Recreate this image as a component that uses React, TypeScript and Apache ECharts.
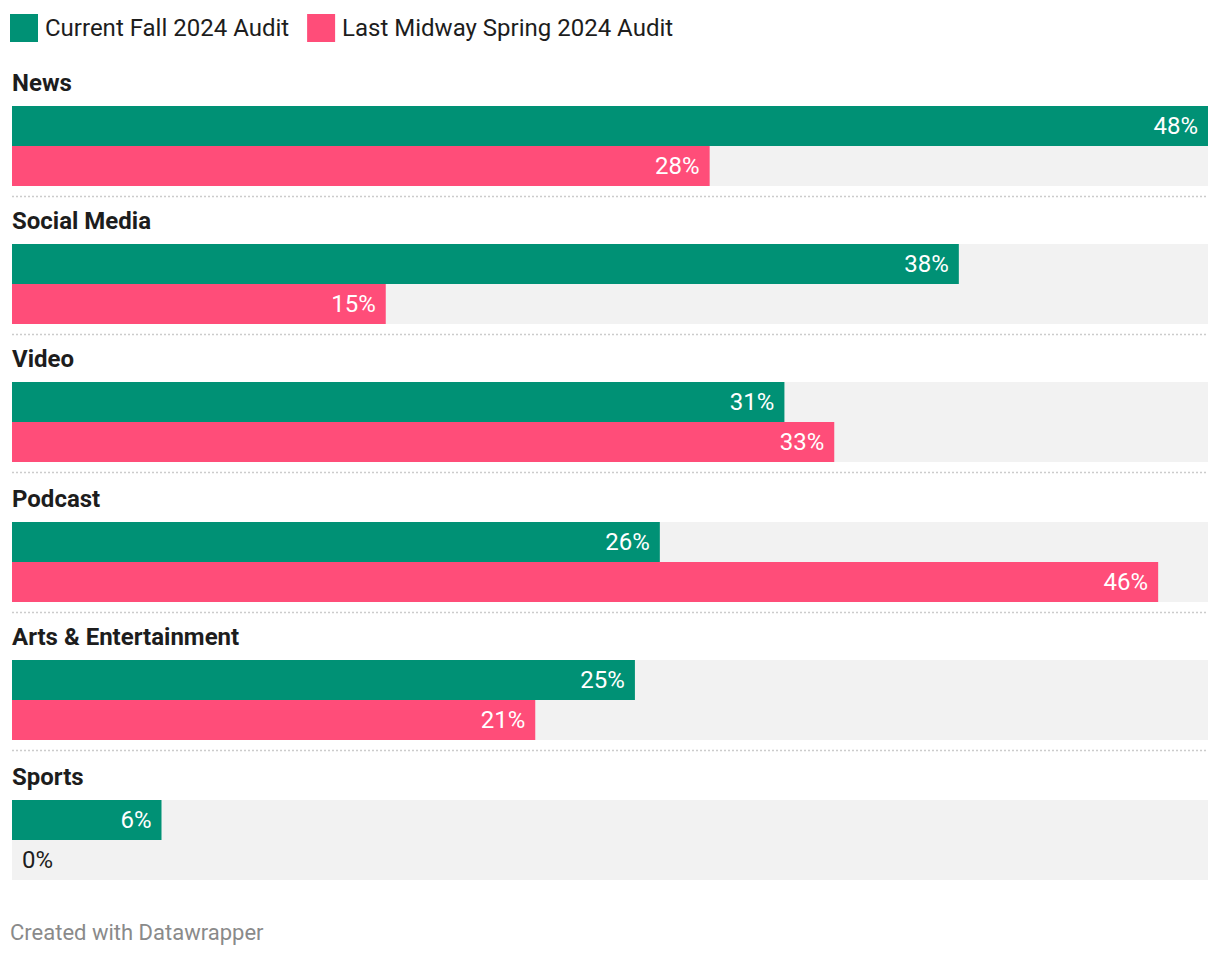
import React, { useEffect, useRef } from "react";
import * as echarts from "echarts";

const categories = ["News", "Social Media", "Video", "Podcast", "Arts & Entertainment", "Sports"];
const seriesNames = ["Current Fall 2024 Audit", "Last Midway Spring 2024 Audit"];
const currentValues = [48, 38, 31, 26, 25, 6];
const lastValues = [28, 15, 33, 46, 21, 0];
const colors = ["#009175", "#ff4d79"];

const FONT = "Roboto, 'Noto Sans', sans-serif";

export default function App() {
  const ref = useRef<HTMLDivElement>(null);
  useEffect(() => {
    if (!ref.current) return;
    const chart = echarts.init(ref.current, undefined, { renderer: "svg" });
    const rowTops = [106, 244, 382, 522, 660, 800];
    const grids: any[] = [];
    const xAxes: any[] = [];
    const yAxes: any[] = [];
    const series: any[] = [];
    const graphics: any[] = [];
    const valueSets = [currentValues, lastValues];
    categories.forEach((cat, i) => {
      const top = rowTops[i];
      grids.push({ left: 12, right: 12, top, height: 80 });
      xAxes.push({ gridIndex: i, type: "value", min: 0, max: 48, show: false });
      yAxes.push({ gridIndex: i, type: "category", data: [cat], inverse: true, show: false });
      valueSets.forEach((vals, s) => {
        const v = vals[i];
        series.push({
          type: "bar",
          name: seriesNames[s],
          xAxisIndex: i,
          yAxisIndex: i,
          barWidth: 40,
          barGap: "0%",
          data: [v],
          itemStyle: { color: colors[s] },
          showBackground: true,
          backgroundStyle: { color: "#f2f2f2" },
          label: {
            show: true,
            position: v === 0 ? "insideLeft" : "insideRight",
            distance: 10,
            formatter: "{c}%",
            color: v === 0 ? "#1d1d1d" : "#ffffff",
            fontSize: 24,
            fontFamily: FONT,
          },
        });
      });
      graphics.push({
        type: "text",
        x: 12,
        y: top - 23,
        style: {
          text: cat,
          fontSize: 24,
          fontWeight: "bold",
          fill: "#1d1d1d",
          fontFamily: FONT,
          textVerticalAlign: "middle",
        },
      });
      if (i > 0) {
        const y = rowTops[i - 1] + 90.5;
        graphics.push({
          type: "line",
          shape: { x1: 12, y1: y, x2: 1208, y2: y },
          style: { stroke: "#cccccc", lineWidth: 1.5, lineDash: [2, 2] },
        });
      }
    });
    graphics.push({
      type: "text",
      x: 10,
      y: 932,
      style: {
        text: "Created with Datawrapper",
        fontSize: 22,
        fill: "#8a8a8a",
        fontFamily: FONT,
        textVerticalAlign: "middle",
      },
    });
    chart.setOption({
      animation: false,
      textStyle: { fontFamily: FONT },
      legend: {
        data: seriesNames,
        left: 10,
        top: 14,
        padding: 0,
        icon: "rect",
        itemWidth: 28,
        itemHeight: 28,
        itemGap: 18,
        selectedMode: false,
        textStyle: { fontSize: 24, color: "#1d1d1d", fontFamily: FONT, padding: [0, 0, 5, 2] },
      },
      grid: grids,
      xAxis: xAxes,
      yAxis: yAxes,
      series,
      graphic: graphics,
    });
    return () => chart.dispose();
  }, []);
  return <div ref={ref} style={{ position: "absolute", left: 0, top: 0, width: 1220, height: 956 }} />;
}
